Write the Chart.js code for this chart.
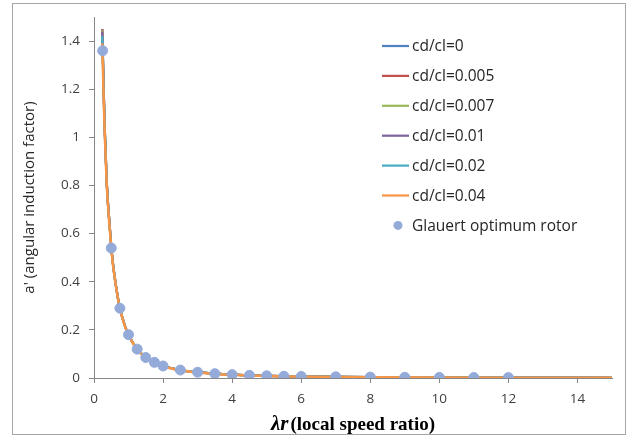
<!DOCTYPE html>
<html>
<head>
<meta charset="utf-8">
<script src="https://cdn.jsdelivr.net/npm/chart.js@4"></script>
<style>
  html, body { margin: 0; padding: 0; background: #fff; }
  #wrap { position: relative; width: 631px; height: 438px; }
</style>
</head>
<body>
<div id="wrap"><canvas id="chart" width="631" height="438"></canvas></div>
<script>
// local speed ratio for the BEM curves
const lambdaLine = [0.24, 0.28, 0.31, 0.37, 0.45, 0.53, 0.65, 0.75, 0.9, 1, 1.25, 1.5, 1.75, 2, 2.5, 3, 3.5, 4, 5, 6, 7, 8, 10, 12, 15];
// a' for each drag ratio
const cd0    = [1.45, 1.20, 1.04, 0.81, 0.64, 0.50, 0.37, 0.29, 0.215, 0.18, 0.12, 0.086, 0.065, 0.05, 0.033, 0.024, 0.018, 0.014, 0.009, 0.0065, 0.0048, 0.0037, 0.0024, 0.0017, 0.001];
const cd005  = [1.45, 1.20, 1.04, 0.81, 0.64, 0.50, 0.37, 0.29, 0.215, 0.18, 0.12, 0.086, 0.065, 0.05, 0.033, 0.024, 0.018, 0.014, 0.009, 0.0065, 0.0048, 0.0037, 0.0024, 0.0017, 0.001];
const cd007  = [1.445, 1.20, 1.04, 0.81, 0.64, 0.50, 0.37, 0.29, 0.215, 0.18, 0.12, 0.086, 0.065, 0.05, 0.033, 0.024, 0.018, 0.014, 0.009, 0.0065, 0.0048, 0.0037, 0.0024, 0.0017, 0.001];
const cd01   = [1.44, 1.19, 1.035, 0.81, 0.64, 0.50, 0.37, 0.29, 0.215, 0.18, 0.12, 0.086, 0.065, 0.05, 0.033, 0.024, 0.018, 0.014, 0.009, 0.0065, 0.0048, 0.0037, 0.0024, 0.0017, 0.001];
const cd02   = [1.42, 1.18, 1.03, 0.805, 0.635, 0.50, 0.37, 0.29, 0.214, 0.179, 0.12, 0.086, 0.065, 0.05, 0.033, 0.024, 0.018, 0.014, 0.009, 0.0065, 0.0048, 0.0037, 0.0024, 0.0017, 0.001];
const cd04   = [1.39, 1.16, 1.02, 0.80, 0.63, 0.495, 0.368, 0.288, 0.213, 0.178, 0.119, 0.085, 0.064, 0.049, 0.032, 0.023, 0.017, 0.013, 0.008, 0.006, 0.0045, 0.0035, 0.0022, 0.0015, 0.0009];
// Glauert optimum rotor points
const lambdaGlauert = [0.25, 0.5, 0.75, 1, 1.25, 1.5, 1.75, 2, 2.5, 3, 3.5, 4, 4.5, 5, 5.5, 6, 7, 8, 9, 10, 11, 12];
const aGlauert = [1.36, 0.54, 0.29, 0.18, 0.12, 0.085, 0.065, 0.05, 0.033, 0.024, 0.018, 0.014, 0.011, 0.009, 0.0075, 0.0065, 0.0048, 0.0037, 0.003, 0.0024, 0.002, 0.0017];

const seriesNames = ['cd/cl=0', 'cd/cl=0.005', 'cd/cl=0.007', 'cd/cl=0.01', 'cd/cl=0.02', 'cd/cl=0.04'];
const seriesVals = [cd0, cd005, cd007, cd01, cd02, cd04];
const seriesColors = ['#4F81BD', '#C0504D', '#9BBB59', '#8064A2', '#4BACC6', '#F79646'];
const glauertColor = '#94ABD9';

const xTicks = [0, 2, 4, 6, 8, 10, 12, 14];
const yTicks = [0, 0.2, 0.4, 0.6, 0.8, 1, 1.2, 1.4];
const yTickLabels = ['0', '0.2', '0.4', '0.6', '0.8', '1', '1.2', '1.4'];

function pairs(xs, ys) { return xs.map((x, i) => ({ x, y: ys[i] })); }

const datasets = seriesNames.map((name, i) => ({
  label: name,
  data: pairs(lambdaLine, seriesVals[i]),
  showLine: true,
  borderColor: seriesColors[i],
  backgroundColor: seriesColors[i],
  borderWidth: i === 5 ? 2.5 : 2.25,
  pointRadius: 0,
  cubicInterpolationMode: 'monotone',
  order: 10 - i
}));
datasets.push({
  label: 'Glauert optimum rotor',
  data: pairs(lambdaGlauert, aGlauert),
  showLine: false,
  pointRadius: 5,
  pointBackgroundColor: glauertColor,
  pointBorderColor: glauertColor,
  backgroundColor: glauertColor,
  order: 0
});

// frame, legend, x title drawn by hand
const extras = {
  id: 'extras',
  afterDraw(chart) {
    const ctx = chart.ctx;
    ctx.save();
    ctx.strokeStyle = '#A6A6A6';
    ctx.lineWidth = 1;
    ctx.strokeRect(12.5, 3.5, 613, 431);

    // legend
    ctx.font = '15.5px "Open Sans"';
    ctx.textBaseline = 'middle';
    ctx.fillStyle = '#262626';
    const ds = chart.data.datasets;
    ds.forEach((d, i) => {
      const y = 46 + i * 29.9;
      if (d.showLine) {
        ctx.strokeStyle = d.borderColor;
        ctx.lineWidth = 2.25;
        ctx.beginPath(); ctx.moveTo(382, y); ctx.lineTo(409, y); ctx.stroke();
      } else {
        ctx.fillStyle = glauertColor;
        ctx.beginPath(); ctx.arc(398, y, 4.5, 0, Math.PI * 2); ctx.fill();
        ctx.fillStyle = '#262626';
      }
      ctx.fillText(d.label, 412, y + 1);
    });

    // x axis title: bold italic lambda r + bold text
    ctx.fillStyle = '#000';
    ctx.textBaseline = 'alphabetic';
    const y = 430;
    const f1 = 'bold italic 21px "Liberation Serif"';
    const f2 = 'bold 19px "Liberation Serif"';
    ctx.font = f1;
    const p1 = '\u03BBr';
    const w1 = ctx.measureText(p1).width;
    ctx.font = f2;
    const p2 = '(local speed ratio)';
    const w2 = ctx.measureText(p2).width;
    const x = 353 - (w1 + w2 + 2) / 2;
    ctx.font = f1;
    ctx.fillText(p1, x, y);
    ctx.font = f2;
    ctx.fillText(p2, x + w1 + 2, y);
    ctx.restore();
  }
};

new Chart(document.getElementById('chart'), {
  type: 'scatter',
  data: { datasets },
  options: {
    responsive: false,
    animation: false,
    layout: { padding: { top: 17, right: 19, left: 0, bottom: 0 } },
    plugins: { legend: { display: false }, tooltip: { enabled: false } },
    scales: {
      x: {
        type: 'linear', min: 0, max: 15,
        afterBuildTicks: s => { s.ticks = xTicks.map(v => ({ value: v })); },
        afterFit: s => { s.height = 60; },
        border: { color: '#868686', width: 1 },
        grid: { drawOnChartArea: false, drawTicks: true, tickLength: 5, color: '#868686' },
        ticks: { color: '#404040', font: { family: 'Open Sans', size: 13.5 }, padding: 8, maxRotation: 0 }
      },
      y: {
        type: 'linear', min: 0, max: 1.5,
        afterBuildTicks: s => { s.ticks = yTicks.map(v => ({ value: v })); },
        afterFit: s => { s.width = 94; },
        border: { color: '#868686', width: 1 },
        grid: { drawOnChartArea: false, drawTicks: true, tickLength: 5, color: '#868686' },
        ticks: {
          color: '#404040', font: { family: 'Open Sans', size: 13.5 }, padding: 9,
          callback: (v, i) => yTickLabels[i]
        },
        title: { display: true, text: "a' (angular induction factor)", color: '#262626', font: { family: 'Open Sans', size: 15 }, padding: { top: 21, bottom: 0 } }
      }
    }
  },
  plugins: [extras]
});
</script>
</body>
</html>
